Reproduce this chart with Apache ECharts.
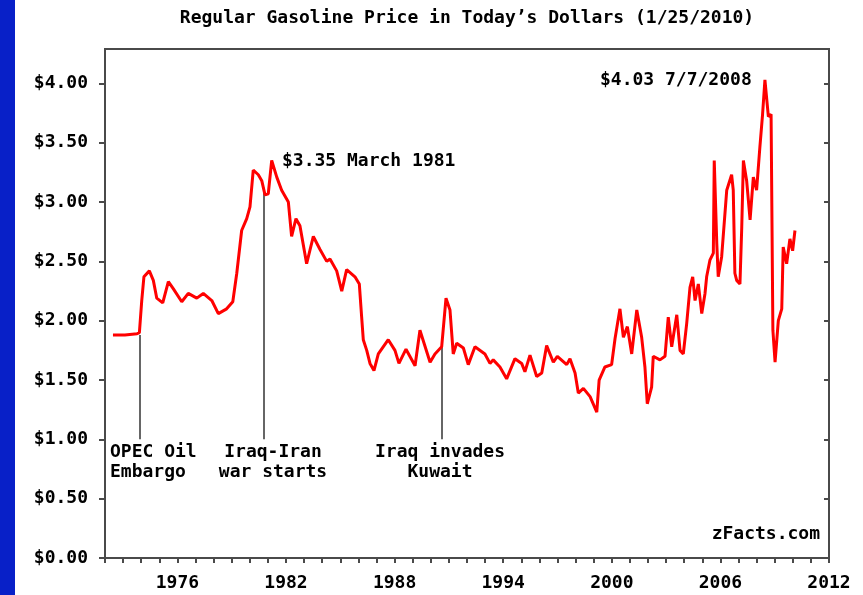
<!DOCTYPE html>
<html>
<head>
<meta charset="utf-8">
<script src="https://cdn.jsdelivr.net/npm/echarts@6/dist/echarts.min.js"></script>
<style>
  html, body { margin: 0; padding: 0; background: #fff; }
  #chart { width: 863px; height: 595px; }
</style>
</head>
<body>
<div id="chart"></div>
<script>
// price in today's dollars
var years = [
  1972.44, 1973.10, 1973.77, 1973.90, 1974.03, 1974.15, 1974.45, 1974.67, 1974.86, 1975.19,
  1975.50, 1975.77, 1976.24, 1976.60, 1977.07, 1977.43, 1977.90, 1978.26, 1978.72, 1979.06,
  1979.28, 1979.55, 1979.83, 1980.01, 1980.19, 1980.47, 1980.66, 1980.84, 1981.02, 1981.21,
  1981.49, 1981.76, 1982.13, 1982.31, 1982.55, 1982.77, 1983.14, 1983.51, 1983.88, 1984.25,
  1984.43, 1984.80, 1985.08, 1985.35, 1985.81, 1986.05, 1986.18, 1986.27, 1986.46, 1986.64,
  1986.86, 1987.10, 1987.65, 1988.02, 1988.24, 1988.63, 1989.13, 1989.40, 1989.96, 1990.23,
  1990.60, 1990.84, 1991.06, 1991.24, 1991.43, 1991.80, 1992.07, 1992.44, 1992.99, 1993.27,
  1993.45, 1993.82, 1994.19, 1994.65, 1995.02, 1995.20, 1995.48, 1995.85, 1996.13, 1996.40,
  1996.77, 1996.99, 1997.51, 1997.69, 1997.97, 1998.15, 1998.43, 1998.80, 1999.17, 1999.30,
  1999.62, 1999.99, 2000.18, 2000.45, 2000.64, 2000.86, 2001.10, 2001.38, 2001.65, 2001.83,
  2001.96, 2002.20, 2002.29, 2002.66, 2002.94, 2003.12, 2003.31, 2003.59, 2003.77, 2003.95,
  2004.14, 2004.32, 2004.47, 2004.60, 2004.78, 2004.97, 2005.15, 2005.24, 2005.42, 2005.61,
  2005.66, 2005.80, 2005.88, 2006.07, 2006.25, 2006.35, 2006.62, 2006.71, 2006.80, 2006.90,
  2007.08, 2007.18, 2007.27, 2007.45, 2007.64, 2007.82, 2008.00, 2008.18, 2008.33, 2008.46,
  2008.65, 2008.80, 2008.85, 2008.90, 2009.02, 2009.20, 2009.39, 2009.47, 2009.66, 2009.84,
  2009.99, 2010.12
];
var prices = [
  1.88, 1.88, 1.89, 1.90, 2.17, 2.37, 2.42, 2.34, 2.19, 2.15,
  2.33, 2.27, 2.16, 2.23, 2.19, 2.23, 2.17, 2.06, 2.10, 2.16,
  2.40, 2.76, 2.86, 2.96, 3.27, 3.23, 3.18, 3.06, 3.07, 3.35,
  3.21, 3.10, 3.00, 2.71, 2.86, 2.80, 2.48, 2.71, 2.60, 2.50,
  2.52, 2.42, 2.25, 2.43, 2.37, 2.31, 2.03, 1.84, 1.75, 1.64,
  1.58, 1.72, 1.84, 1.75, 1.64, 1.76, 1.62, 1.92, 1.65, 1.72,
  1.78, 2.19, 2.09, 1.72, 1.81, 1.77, 1.63, 1.78, 1.72, 1.64,
  1.67, 1.61, 1.51, 1.68, 1.64, 1.57, 1.71, 1.53, 1.56, 1.79,
  1.65, 1.70, 1.63, 1.68, 1.56, 1.39, 1.43, 1.36, 1.23, 1.50,
  1.61, 1.63, 1.85, 2.10, 1.86, 1.95, 1.72, 2.09, 1.86, 1.61,
  1.30, 1.44, 1.70, 1.67, 1.70, 2.03, 1.78, 2.05, 1.75, 1.72,
  1.98, 2.28, 2.37, 2.17, 2.31, 2.06, 2.23, 2.37, 2.51, 2.57,
  3.35, 2.65, 2.37, 2.54, 2.90, 3.10, 3.23, 3.10, 2.40, 2.34,
  2.31, 2.79, 3.35, 3.18, 2.85, 3.21, 3.10, 3.46, 3.74, 4.03,
  3.72, 3.74, 2.82, 1.92, 1.65, 2.00, 2.10, 2.62, 2.48, 2.69,
  2.59, 2.76
];

var xLabelYears = [1976, 1982, 1988, 1994, 2000, 2006, 2012];
var yTicks = [0, 0.5, 1, 1.5, 2, 2.5, 3, 3.5, 4];

// events: year, price where the pointer meets the curve
var eventYears = [1973.9, 1980.75, 1990.63];
var eventTops = [1.88, 3.12, 1.84];
var eventBottom = 1.0;

var monoFont = '"DejaVu Sans Mono", "Liberation Mono", monospace';

var chart = echarts.init(document.getElementById('chart'));

var seriesData = years.map(function (y, i) { return [y, prices[i]]; });
var eventLines = eventYears.map(function (y, i) {
    return [{ coord: [y, eventBottom] }, { coord: [y, eventTops[i]] }];
});

function txt(x, y, s, align) {
    return {
        type: 'text', x: x, y: y, z: 10,
        style: {
            text: s, fill: '#000', font: 'bold 18px ' + monoFont,
            align: align || 'left', verticalAlign: 'middle', lineHeight: 20
        }
    };
}

var axisLineStyle = { color: '#4a4a4a', width: 2 };

option = {
    animation: false,
    backgroundColor: '#fff',
    grid: {
        left: 105, right: 34, top: 49, bottom: 37,
        show: true, borderColor: '#4a4a4a', borderWidth: 2
    },
    xAxis: {
        type: 'value',
        min: 1972, max: 2012, interval: 1,
        axisLine: { lineStyle: axisLineStyle },
        axisTick: { show: true, length: 5, lineStyle: { color: '#4a4a4a', width: 2 } },
        axisLabel: {
            customValues: xLabelYears,
            margin: 16,
            color: '#000',
            fontFamily: monoFont, fontWeight: 'bold', fontSize: 18,
            formatter: function (v) { return String(v); }
        },
        splitLine: { show: false }
    },
    yAxis: [
        {
            type: 'value', min: 0, max: 4.29,
            axisLine: { show: true, lineStyle: axisLineStyle },
            axisTick: { show: true, length: 6, customValues: yTicks, lineStyle: { color: '#4a4a4a', width: 2 } },
            axisLabel: {
                customValues: yTicks,
                margin: 17,
                color: '#000',
                fontFamily: monoFont, fontWeight: 'bold', fontSize: 18,
                formatter: function (v) { return '$' + v.toFixed(2); }
            },
            splitLine: { show: false }
        },
        {
            type: 'value', min: 0, max: 4.29, position: 'right',
            axisLine: { show: true, lineStyle: axisLineStyle },
            axisTick: { show: true, inside: true, length: 5, customValues: yTicks, lineStyle: { color: '#4a4a4a', width: 2 } },
            axisLabel: { show: false },
            splitLine: { show: false }
        }
    ],
    series: [
        {
            type: 'line',
            data: seriesData,
            showSymbol: false,
            lineStyle: { color: '#ff0000', width: 3 },
            z: 3,
            markLine: {
                silent: true,
                symbol: ['none', 'none'],
                label: { show: false },
                lineStyle: { color: '#333', width: 1.5, type: 'solid' },
                data: eventLines,
                z: 2
            }
        }
    ],
    graphic: [
        { type: 'rect', shape: { x: 0, y: 0, width: 15, height: 595 }, style: { fill: '#0820c8' } },
        txt(467, 18.5, 'Regular Gasoline Price in Today\u2019s Dollars (1/25/2010)', 'center'),
        txt(282, 161, '$3.35 March 1981'),
        txt(600, 80, '$4.03 7/7/2008'),
        txt(110, 462, 'OPEC Oil\nEmbargo'),
        txt(273, 462, 'Iraq-Iran\nwar starts', 'center'),
        txt(440, 462, 'Iraq invades\nKuwait', 'center'),
        txt(820, 534, 'zFacts.com', 'right')
    ]
};

chart.setOption(option);
</script>
</body>
</html>
